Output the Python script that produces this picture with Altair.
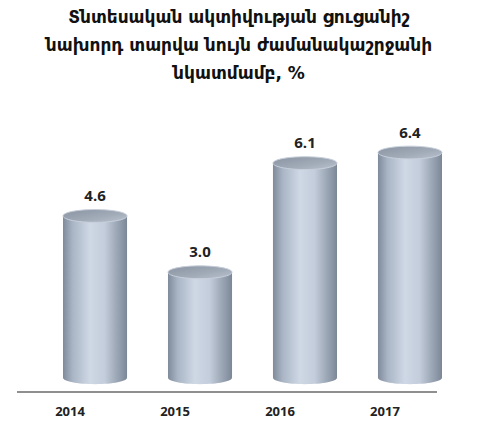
import altair as alt
import pandas as pd

years = ["2014", "2015", "2016", "2017"]
values = [4.6, 3.0, 6.1, 6.4]
labels = ["4.6", "3.0", "6.1", "6.4"]
title_lines = [
    "Տնտեսական ակտիվության ցուցանիշ",
    "նախորդ տարվա նույն ժամանակաշրջանի",
    "նկատմամբ, %",
]

df = pd.DataFrame({"year": years, "value": values, "label": labels, "zero": [0.0] * 4})

k = 0.5523
r = 0.2
rk = round(r * k, 4)
ellipse = (
    f"M -1 0 C -1 {-rk} {-k} {-r} 0 {-r} C {k} {-r} 1 {-rk} 1 0 "
    f"C 1 {rk} {k} {r} 0 {r} C {-k} {r} -1 {rk} -1 0 Z"
)

body_grad = alt.Gradient(
    gradient="linear", x1=0, x2=1, y1=0, y2=0,
    stops=[
        alt.GradientStop(color="#7f8a9a", offset=0),
        alt.GradientStop(color="#a9b5c5", offset=0.15),
        alt.GradientStop(color="#cfd8e5", offset=0.42),
        alt.GradientStop(color="#c3cddb", offset=0.65),
        alt.GradientStop(color="#8c97a7", offset=0.92),
        alt.GradientStop(color="#7c8796", offset=1),
    ],
)
top_grad = alt.Gradient(
    gradient="linear", x1=0, x2=1, y1=0, y2=1,
    stops=[
        alt.GradientStop(color="#8a94a2", offset=0),
        alt.GradientStop(color="#a2abb8", offset=0.6),
        alt.GradientStop(color="#b9c2ce", offset=1),
    ],
)

x = alt.X(
    "year:N",
    sort=years,
    scale=alt.Scale(range=[46, 425], paddingInner=0.39, paddingOuter=0),
    axis=alt.Axis(
        title=None, domain=False, ticks=False, labelAngle=0, labelOffset=-25,
        labelPadding=12, labelFont="Open Sans", labelFontWeight="bold",
        labelFontSize=13, labelColor="#222222",
    ),
)
yscale = alt.Scale(domain=[-0.43, 7.95], nice=False, zero=False)
y = alt.Y("value:Q", scale=yscale, axis=None)

base = alt.Chart(df)

bottom = base.mark_point(
    shape=ellipse, size=4096, filled=True, fill=body_grad, opacity=1, strokeWidth=0
).encode(x=x, y=alt.Y("zero:Q", scale=yscale, axis=None))

body = base.mark_bar(fill=body_grad, strokeWidth=0).encode(
    x=x, y=y, y2=alt.Y2("zero:Q")
)

top = base.mark_point(
    shape=ellipse, size=4096, filled=True, fill=top_grad, opacity=1,
    stroke="#c8d0dc", strokeWidth=1,
).encode(x=x, y=y)

text = base.mark_text(
    dy=-20, font="Open Sans", fontWeight="bold", fontSize=15, color="#222222"
).encode(x=x, y=y, text="label:N")

line_df = pd.DataFrame({"b": [-0.40]})
baseline = alt.Chart(line_df).mark_rule(stroke="#8f8f8f", strokeWidth=2, opacity=1).encode(
    y=alt.Y("b:Q", scale=yscale, axis=None),
)

chart = (
    alt.layer(bottom, body, top, text, baseline)
    .properties(
        width=420,
        height=295,
        autosize=alt.AutoSizeParams(type="none"),
        padding={"left": 9, "top": 90, "right": 33, "bottom": 30},
        title=alt.TitleParams(
            text=title_lines, anchor="middle", frame="group", font="DejaVu Sans",
            fontWeight="bold", fontSize=17, lineHeight=28, color="#111111", offset=15,
            dx=12,
        ),
    )
    .configure_view(stroke=None)
)

chart.save("out.html", embed_options={"renderer": "svg", "actions": False})
